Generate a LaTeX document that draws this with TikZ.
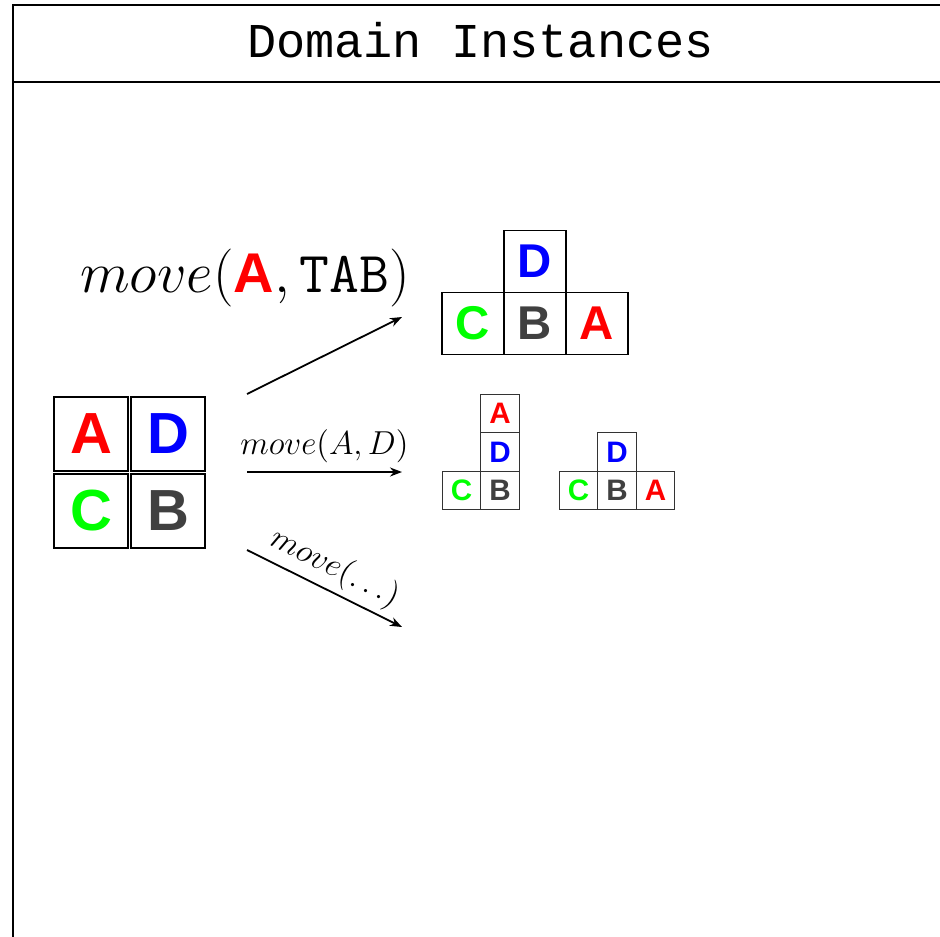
\documentclass[tikz,border=0pt]{standalone}
\usepackage{fix-cm}
\usepackage{amsmath}
\usepackage{fontspec}
\usetikzlibrary{arrows.meta, positioning}
\newfontfamily\titlefont{Liberation Mono}
\newfontfamily\blockfont{Liberation Sans}
\definecolor{blockgreen}{RGB}{0,255,0}
\definecolor{blockgray}{RGB}{64,64,64}
\tikzstyle{bigblock} = [draw=black, line width=1pt, minimum size=37pt, inner sep=0pt, outer sep=0pt, font=\blockfont\bfseries\fontsize{29}{29}\selectfont]
\tikzstyle{midblock} = [draw=black, line width=0.8pt, minimum size=31pt, inner sep=0pt, outer sep=0pt, font=\blockfont\bfseries\fontsize{23.7}{24}\selectfont]
\tikzstyle{smallblock} = [draw=black!80, line width=0.5pt, minimum size=19.25pt, inner sep=0pt, outer sep=0pt, font=\blockfont\bfseries\fontsize{14.8}{15}\selectfont]
\tikzstyle{moveline} = [line width=0.9pt, -{Stealth[length=6pt, width=4.5pt]}]
\newcommand{\blk}[2]{\mbox{\textcolor{#1}{\blockfont\bfseries\fontsize{28}{28}\selectfont #2}}}

\begin{document}
\begin{tikzpicture}[x=0.5pt, y=-0.5pt, node distance=0pt]
\useasboundingbox (0,0) rectangle (940,936);
\clip (0,0) rectangle (940,936);
% frame with title bar
\draw [line width=1pt] (13,5) rectangle (948,1000);
\draw [line width=1pt] (13,82) -- (948,82);
\node (title) [anchor=base] at (480.5,58) {\titlefont\fontsize{24.3}{25}\selectfont Domain Instances};

% initial state
\node (a0) [bigblock, text=red] at (91,433.5) {A};
\node (d0) [bigblock, text=blue, right=1.5pt of a0] {D};
\node (c0) [bigblock, text=blockgreen, below=1.5pt of a0] {C};
\node (b0) [bigblock, text=blockgray, right=1.5pt of c0] {B};

% A moved to the table
\node (c1) [midblock, text=blockgreen] at (473,323.5) {C};
\node (b1) [midblock, text=blockgray, right=of c1] {B};
\node (a1) [midblock, text=red, right=of b1] {A};
\node (d1) [midblock, text=blue, above=of b1] {D};

% A moved onto D
\node (c2) [smallblock, text=blockgreen] at (461.5,490.5) {C};
\node (b2) [smallblock, text=blockgray, right=of c2] {B};
\node (d2) [smallblock, text=blue, above=of b2] {D};
\node (a2) [smallblock, text=red, above=of d2] {A};

\node (c3) [smallblock, text=blockgreen] at (578.5,490.5) {C};
\node (b3) [smallblock, text=blockgray, right=of c3] {B};
\node (a3) [smallblock, text=red, right=of b3] {A};
\node (d3) [smallblock, text=blue, above=of b3] {D};

% moves
\coordinate (s1) at (247,394);
\coordinate (e1) at (402,317);
\coordinate (s2) at (247,472);
\coordinate (e2) at (402,472);
\coordinate (s3) at (247,550);
\coordinate (e3) at (402,627);
\node (lbl1) [anchor=base] at (245,292) {\fontsize{29}{31}\selectfont $move(\blk{red}{A}, \mathtt{TAB})$};
\draw [moveline] (s1) -- (e1);
\draw [moveline] (s2) -- (e2) node (lbl2) [midway, above, inner sep=4.4pt, font=\fontsize{16.6}{18}\selectfont] {$move(A, D)$};
\draw [moveline] (s3) -- (e3) node (lbl3) [midway, above, sloped, inner sep=2.6pt, font=\fontsize{16.6}{18}\selectfont] {$move(\ldots)$};
\end{tikzpicture}
\end{document}
